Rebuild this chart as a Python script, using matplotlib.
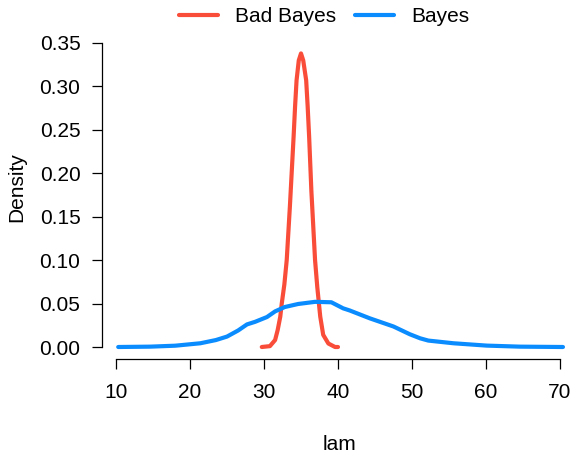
import matplotlib
matplotlib.use("Agg")
import matplotlib.pyplot as plt

# density curves
bad_x = [29.7, 30.8, 31.5, 31.85, 32.2, 32.4, 32.75, 33.07, 33.5, 34.0, 34.2,
         34.4, 34.7, 35.0, 35.3, 35.7, 35.9, 36.1, 36.4, 36.9, 37.2, 37.6,
         38.0, 38.7, 39.6, 40.0]
bad_y = [0.0, 0.001, 0.008, 0.0196, 0.035, 0.050, 0.072, 0.100, 0.162, 0.242,
         0.277, 0.307, 0.330, 0.338, 0.330, 0.307, 0.277, 0.242, 0.180, 0.100,
         0.069, 0.035, 0.014, 0.004, 0.0, 0.0]

bayes_x = [10.3, 14.6, 18.0, 21.4, 23.5, 25.0, 26.5, 27.7, 28.8, 30.4, 31.5,
           32.8, 34.6, 36.9, 39.1, 40.7, 41.6, 44.3, 47.5, 49.7, 51.1, 52.2,
           55.6, 60.1, 64.6, 70.4]
bayes_y = [0.0, 0.0004, 0.0015, 0.0043, 0.008, 0.012, 0.019, 0.026, 0.029,
           0.0345, 0.041, 0.046, 0.0495, 0.052, 0.0515, 0.0445, 0.042, 0.033,
           0.0236, 0.0147, 0.010, 0.0074, 0.0043, 0.0016, 0.0004, 0.0]

x_ticks = [10, 20, 30, 40, 50, 60, 70]
y_ticks = [0.00, 0.05, 0.10, 0.15, 0.20, 0.25, 0.30, 0.35]

plt.rcParams['font.family'] = ['Liberation Sans', 'DejaVu Sans']
FS = 15

W, H = 574, 453
fig = plt.figure(figsize=(W / 100, H / 100), dpi=100)
# plot region in pixels: left 102, right 574, top 40, bottom 359
L, R, T, B = 102, 574, 40, 359
ax = fig.add_axes([L / W, (H - B) / H, (R - L) / W, (B - T) / H])

red = "#F94D3A"
blue = "#0A8CFF"
ax.plot(bad_x, bad_y, color=red, lw=3, solid_capstyle="round",
        solid_joinstyle="round", label="Bad Bayes")
ax.plot(bayes_x, bayes_y, color=blue, lw=3, solid_capstyle="round",
        solid_joinstyle="round", label="Bayes")

ax.set_xlim(10 - 14 / 7.4, 70 + 14 / 7.4)
ax.set_ylim(-12 / 868.6, 0.35 + 3 / 868.6)

for s in ["top", "right"]:
    ax.spines[s].set_visible(False)
ax.spines["left"].set_bounds(0, 0.35)
ax.spines["bottom"].set_bounds(10, 70)
for s in ["left", "bottom"]:
    ax.spines[s].set_linewidth(0.9)

ax.set_xticks(x_ticks)
ax.set_xticklabels([str(v) for v in x_ticks])
ax.set_yticks(y_ticks)
ax.set_yticklabels(["%.2f" % v for v in y_ticks])
ax.tick_params(axis="x", length=7.5, width=0.9, pad=10, labelsize=FS)
ax.tick_params(axis="y", length=7.5, width=0.9, pad=8, labelsize=FS)

ax.set_xlabel("lam", fontsize=FS, va="center")
ax.set_ylabel("Density", fontsize=FS, va="center")
ax.xaxis.set_label_coords((339 - L) / (R - L), -(445 - B) / (B - T))
ax.yaxis.set_label_coords(-(L - 17) / (R - L), (B - 187) / (B - T))

fig.legend(loc="center", bbox_to_anchor=(324 / W, 1 - 17 / H), ncol=2,
           frameon=False, fontsize=FS, handlelength=1.9, handletextpad=0.8,
           columnspacing=0.9)

fig.savefig("out.png", dpi=100)
